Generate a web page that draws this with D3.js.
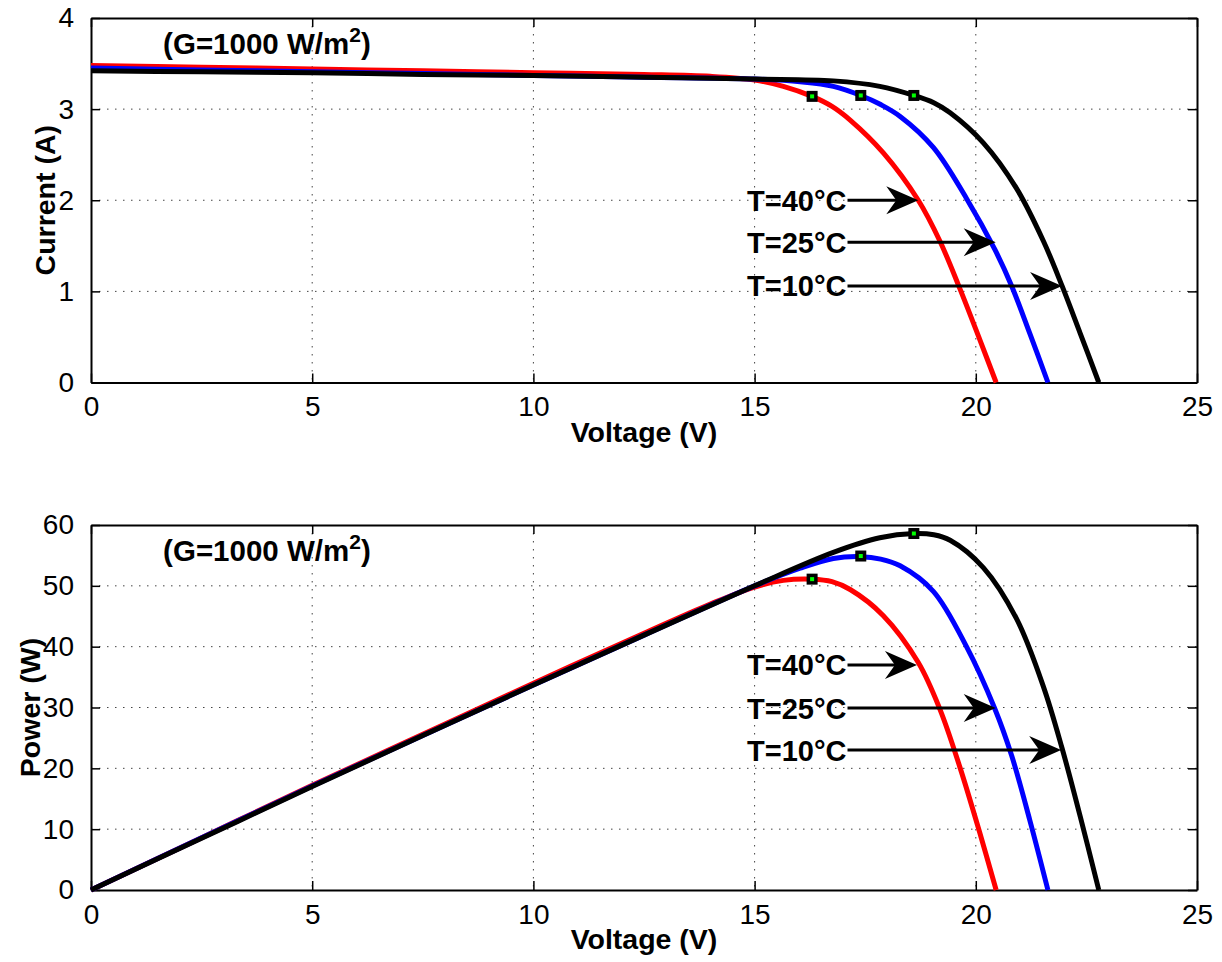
<!DOCTYPE html>
<html>
<head>
<meta charset="utf-8">
<script src="https://cdn.jsdelivr.net/npm/d3@7"></script>
<style>
body { margin: 0; background: #fff; }
text { font-family: "Liberation Sans", Arial, Helvetica, sans-serif; fill: #000; }
.grid line { stroke: #444; stroke-width: 1; stroke-dasharray: 1.5,6.5; }
.curve { fill: none; stroke-width: 5px; stroke-linejoin: round; }
</style>
</head>
<body>
<div id="svgcontainer"></div>
<script>
  var vRed   = [0, 2.5, 5, 7.5, 10, 12.5, 14, 15, 15.65, 16.3, 16.75, 17.16, 17.91, 18.7, 19.19, 19.64, 20.09, 20.46];
  var iRed   = [3.48, 3.46, 3.44, 3.42, 3.40, 3.38, 3.36, 3.32, 3.25, 3.14, 3.03, 2.88, 2.52, 2.00, 1.55, 1.03, 0.47, 0];
  var pRed   = [0, 8.6, 17.2, 25.6, 34.0, 42.2, 47.0, 49.8, 50.9, 51.1, 50.7, 49.4, 45.1, 37.4, 29.7, 20.2, 9.4, 0];

  var vBlue  = [0, 2.5, 5, 7.5, 10, 12.5, 15, 16.03, 16.78, 17.4, 17.85, 18.29, 19.04, 19.79, 20.43, 20.81, 21.22, 21.63];
  var iBlue  = [3.45, 3.43, 3.41, 3.39, 3.37, 3.35, 3.33, 3.30, 3.25, 3.15, 3.05, 2.92, 2.58, 2.02, 1.46, 1.06, 0.54, 0];
  var pBlue  = [0, 8.6, 17.1, 25.4, 33.7, 41.9, 50.0, 52.9, 54.5, 54.8, 54.4, 53.3, 49.1, 40.0, 29.8, 22.1, 11.5, 0];

  var vBlack = [0, 2.5, 5, 7.5, 10, 12.5, 15, 16.78, 17.83, 18.6, 19.05, 19.42, 20.17, 20.92, 21.53, 21.95, 22.36, 22.78];
  var iBlack = [3.42, 3.41, 3.40, 3.38, 3.37, 3.35, 3.33, 3.31, 3.25, 3.15, 3.07, 2.96, 2.63, 2.13, 1.55, 1.06, 0.54, 0];
  var pBlack = [0, 8.5, 17.0, 25.4, 33.7, 41.9, 50.0, 55.5, 57.9, 58.6, 58.4, 57.5, 53.0, 44.6, 33.4, 23.3, 12.1, 0];

  var tempLabels = ["T=40°C", "T=25°C", "T=10°C"];
  var colors = ["#ff0000", "#0000ff", "#000000"];

  // maximum power points
  var mppV = [16.3, 17.4, 18.6];
  var mppI = [3.14, 3.15, 3.15];
  var mppP = [51.1, 54.9, 58.6];

  // arrows: y value and tip voltage, start voltage shared
  var arrowStartV = 17.1;
  var arrowI = [2.0, 1.54, 1.06];
  var arrowTipI = [18.7, 20.45, 21.95];
  var arrowP = [37.0, 29.9, 23.0];
  var arrowTipP = [18.67, 20.45, 21.93];

  var xTicks = [0, 5, 10, 15, 20, 25];
  var iTicks = [0, 1, 2, 3, 4];
  var pTicks = [0, 10, 20, 30, 40, 50, 60];

  var width = 1222, height = 962;
  var left = 91, right = 1197;

  var svg = d3.select("#svgcontainer")
              .append("svg")
              .attr("width", width)
              .attr("height", height);

  function zip(xs, ys) {
    return xs.map(function(x, k) { return [x, ys[k]]; });
  }

  function panel(cfg) {
    var x = d3.scaleLinear().domain([0, 25]).range([left, right]);
    var y = d3.scaleLinear().domain(cfg.ydomain).range([cfg.bottom, cfg.top]);
    var g = svg.append("g");
    var fmt = d3.format("d");

    // dotted grid
    var grid = g.append("g").attr("class", "grid");
    grid.selectAll(".gx").data(xTicks.slice(1, -1)).enter().append("line")
        .attr("x1", function(d) { return x(d); }).attr("x2", function(d) { return x(d); })
        .attr("y1", cfg.top).attr("y2", cfg.bottom);
    grid.selectAll(".gy").data(cfg.yticks.slice(1, -1)).enter().append("line")
        .attr("y1", function(d) { return y(d); }).attr("y2", function(d) { return y(d); })
        .attr("x1", left).attr("x2", right);

    // axes with inward ticks, box on all sides
    g.append("g").attr("transform", "translate(0," + cfg.bottom + ")")
     .call(d3.axisBottom(x).tickValues(xTicks).tickFormat(fmt).tickSizeInner(-9).tickSizeOuter(0).tickPadding(14));
    g.append("g").attr("transform", "translate(0," + cfg.top + ")")
     .call(d3.axisTop(x).tickValues(xTicks).tickSizeInner(-9).tickSizeOuter(0).tickFormat(""));
    g.append("g").attr("transform", "translate(" + left + ",0)")
     .call(d3.axisLeft(y).tickValues(cfg.yticks).tickFormat(fmt).tickSizeInner(-9).tickSizeOuter(0).tickPadding(17));
    g.append("g").attr("transform", "translate(" + right + ",0)")
     .call(d3.axisRight(y).tickValues(cfg.yticks).tickSizeInner(-9).tickSizeOuter(0).tickFormat(""));
    g.selectAll(".domain").attr("stroke", "#000").attr("stroke-width", 2);
    g.selectAll(".tick line").attr("stroke", "#000").attr("stroke-width", 1.5);
    g.selectAll(".tick text").style("font-size", "28px").attr("fill", "#000");

    // curves
    var line = d3.line()
                 .x(function(d) { return x(d[0]); })
                 .y(function(d) { return y(d[1]); })
                 .curve(d3.curveCatmullRom.alpha(0.5));
    cfg.series.forEach(function(s, k) {
      g.append("path")
       .attr("class", "curve")
       .attr("d", line(s))
       .attr("stroke", colors[k]);
    });

    // mpp markers
    g.selectAll(".mpp").data(cfg.mpp).enter().append("rect")
     .attr("x", function(d) { return x(d[0]) - 3.75; })
     .attr("y", function(d) { return y(d[1]) - 3.75; })
     .attr("width", 7.5).attr("height", 7.5)
     .attr("fill", "#00ff00").attr("stroke", "#000").attr("stroke-width", 3.5);

    // arrows with labels
    cfg.arrows.forEach(function(a, k) {
      var ya = y(a[0]), x0 = x(arrowStartV), x1 = x(a[1]);
      g.append("line")
       .attr("x1", x0).attr("x2", x1 - 20)
       .attr("y1", ya).attr("y2", ya)
       .attr("stroke", "#000").attr("stroke-width", 3);
      g.append("path")
       .attr("d", "M" + x1 + "," + ya + "L" + (x1 - 32) + "," + (ya - 14) + "L" + (x1 - 22) + "," + ya + "L" + (x1 - 32) + "," + (ya + 14) + "Z")
       .attr("fill", "#000");
      g.append("text")
       .attr("x", x0 - 1).attr("y", ya + 10.5)
       .attr("text-anchor", "end")
       .style("font-size", "29px").style("font-weight", "bold")
       .text(tempLabels[k]);
    });

    // irradiance note
    var note = g.append("text")
                .attr("x", x(1.63)).attr("y", y(cfg.noteY))
                .style("font-size", "29.5px").style("font-weight", "bold");
    note.append("tspan").text("(G=1000 W/m");
    note.append("tspan").attr("dy", -12).style("font-size", "21px").text("2");
    note.append("tspan").attr("dy", 12).text(")");

    // axis labels
    g.append("text")
     .attr("x", (left + right) / 2).attr("y", cfg.bottom + 59)
     .attr("text-anchor", "middle")
     .style("font-size", "28.5px").style("font-weight", "bold")
     .text("Voltage (V)");
    g.append("text")
     .attr("transform", "translate(" + cfg.ylabelX + "," + (cfg.top + cfg.bottom) / 2 + ") rotate(-90)")
     .attr("text-anchor", "middle")
     .style("font-size", "28.5px").style("font-weight", "bold")
     .text(cfg.ylabel);
  }

  panel({
    top: 18, bottom: 382.5, ydomain: [0, 4], yticks: iTicks,
    series: [zip(vRed, iRed), zip(vBlue, iBlue), zip(vBlack, iBlack)],
    mpp: zip(mppV, mppI),
    arrows: zip(arrowI, arrowTipI),
    noteY: 3.61, ylabel: "Current (A)", ylabelX: 55
  });

  panel({
    top: 525, bottom: 890, ydomain: [0, 60], yticks: pTicks,
    series: [zip(vRed, pRed), zip(vBlue, pBlue), zip(vBlack, pBlack)],
    mpp: zip(mppV, mppP),
    arrows: zip(arrowP, arrowTipP),
    noteY: 54.1, ylabel: "Power (W)", ylabelX: 40
  });
</script>
</body>
</html>
